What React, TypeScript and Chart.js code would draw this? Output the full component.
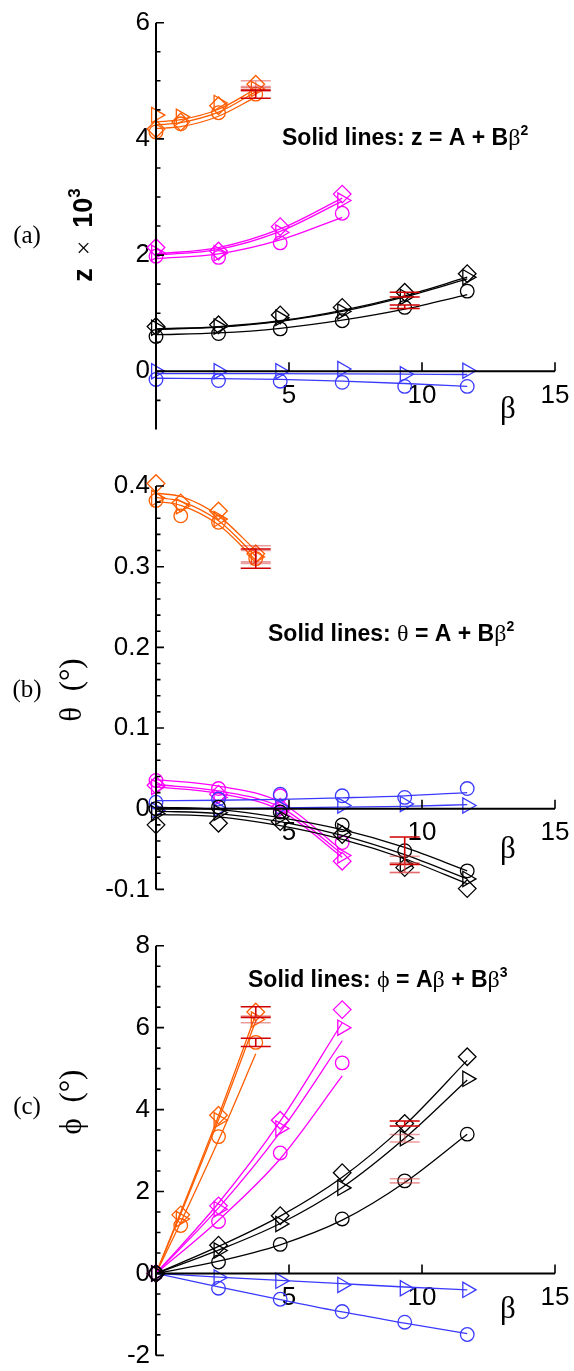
import React, { useEffect, useRef } from 'react';
import { Chart, registerables } from 'chart.js';
Chart.register(...registerables);

const W = 574;
const ORANGE = '#FF5E00';
const MAGENTA = '#FF00FF';
const BLACK = '#000000';
const BLUE = '#3A3AFF';
const RED = '#D00000';
const PINK = 'rgba(215,60,60,0.5)';

// ---- β values ----
const betaOrange = [0, 0.93, 2.35, 3.75];
const betaMagenta = [0, 2.35, 4.67, 7.0];
const betaMain = [0, 2.35, 4.67, 7.0, 9.35, 11.7];
const xTicks = [0, 5, 10, 15];

// ---- Panel (a): z × 10^3 ----
const zOrangeCircle = [4.12, 4.26, 4.45, 4.77];
const zOrangeTriangle = [4.41, 4.38, 4.62, 4.86];
const zOrangeDiamond = [4.17, 4.29, 4.57, 4.94];
const zOrangeFit1 = [4.18, 4.21, 4.39, 4.72];
const zOrangeFit2 = [4.24, 4.28, 4.46, 4.81];
const zOrangeFit3 = [4.29, 4.33, 4.51, 4.86];
const zMagentaCircle = [1.98, 1.96, 2.21, 2.72];
const zMagentaTriangle = [2.04, 2.03, 2.39, 2.94];
const zMagentaDiamond = [2.13, 2.07, 2.49, 3.05];
const zMagentaFit1 = [1.94, 2.02, 2.26, 2.65];
const zMagentaFit2 = [2.0, 2.1, 2.41, 2.93];
const zMagentaFit3 = [2.02, 2.13, 2.45, 2.98];
const zBlackCircle = [0.6, 0.65, 0.73, 0.87, 1.1, 1.38];
const zBlackTriangle = [0.75, 0.77, 0.92, 1.03, 1.28, 1.62];
const zBlackDiamond = [0.77, 0.8, 0.97, 1.1, 1.36, 1.68];
const zBlackFit1 = [0.63, 0.66, 0.74, 0.88, 1.07, 1.32];
const zBlackFit2 = [0.72, 0.76, 0.86, 1.03, 1.28, 1.59];
const zBlackFit3 = [0.73, 0.77, 0.87, 1.05, 1.3, 1.62];
const zBlueCircle = [-0.14, -0.16, -0.17, -0.19, -0.26, -0.26];
const zBlueTriangle = [0.0, 0.0, 0.0, 0.04, -0.05, 0.01];
const zBlueFit1 = [-0.12, -0.125, -0.14, -0.17, -0.21, -0.26];
const zBlueFit2 = [-0.04, -0.04, -0.04, -0.045, -0.05, -0.055];

// ---- Panel (b): θ (°) ----
const tOrangeCircle = [0.382, 0.363, 0.355, 0.31];
const tOrangeTriangle = [0.385, 0.375, 0.359, 0.312];
const tOrangeDiamond = [0.403, 0.379, 0.369, 0.316];
const tOrangeFit1 = [0.381, 0.376, 0.352, 0.308];
const tOrangeFit2 = [0.386, 0.381, 0.357, 0.313];
const tOrangeFit3 = [0.391, 0.387, 0.363, 0.32];
const tMagentaCircle = [0.035, 0.025, 0.016, -0.042];
const tMagentaTriangle = [0.027, 0.014, -0.002, -0.058];
const tMagentaDiamond = [0.029, 0.018, 0.002, -0.065];
const tMagentaFit1 = [0.036, 0.028, 0.008, -0.052];
const tMagentaFit2 = [0.03, 0.022, 0.002, -0.056];
const tMagentaFit3 = [0.027, 0.019, -0.002, -0.06];
const tBlackCircle = [0.0, 0.002, -0.004, -0.02, -0.052, -0.077];
const tBlackTriangle = [-0.006, -0.005, -0.01, -0.028, -0.069, -0.087];
const tBlackDiamond = [-0.02, -0.018, -0.016, -0.032, -0.073, -0.099];
const tBlackFit1 = [0.002, -0.001, -0.011, -0.026, -0.048, -0.077];
const tBlackFit2 = [-0.003, -0.006, -0.016, -0.033, -0.057, -0.087];
const tBlackFit3 = [-0.007, -0.01, -0.021, -0.038, -0.062, -0.093];
const tBlueCircle = [0.008, 0.012, 0.018, 0.016, 0.014, 0.025];
const tBlueTriangle = [-0.002, 0.0, 0.002, 0.004, 0.006, 0.004];
const tBlueFit1 = [0.01, 0.0105, 0.0115, 0.0135, 0.016, 0.02];
const tBlueFit2 = [0.0, 0.0003, 0.001, 0.002, 0.003, 0.005];

// ---- Panel (c): φ (°) ----
const pOrangeCircle = [0, 1.17, 3.34, 5.64];
const pOrangeTriangle = [0, 1.33, 3.74, 6.2];
const pOrangeDiamond = [0, 1.43, 3.86, 6.38];
const pOrangeFit1 = [0, 1.25, 3.25, 5.36];
const pOrangeFit2 = [0, 1.45, 3.75, 6.16];
const pOrangeFit3 = [0, 1.5, 3.85, 6.32];
const pMagentaCircle = [0, 1.27, 2.94, 5.14];
const pMagentaTriangle = [0, 1.57, 3.54, 6.0];
const pMagentaDiamond = [0, 1.65, 3.74, 6.44];
const pMagentaFit1 = [0, 1.3, 2.8, 4.82];
const pMagentaFit2 = [0, 1.6, 3.45, 5.68];
const pMagentaFit3 = [0, 1.72, 3.72, 6.12];
const pBlackCircle = [0, 0.28, 0.71, 1.33, 2.26, 3.4];
const pBlackTriangle = [0, 0.56, 1.21, 2.09, 3.3, 4.75];
const pBlackDiamond = [0, 0.69, 1.41, 2.46, 3.66, 5.29];
const pBlackFit1 = [0, 0.3, 0.7, 1.3, 2.22, 3.4];
const pBlackFit2 = [0, 0.57, 1.22, 2.1, 3.3, 4.72];
const pBlackFit3 = [0, 0.66, 1.4, 2.35, 3.62, 5.2];
const pBlueCircle = [0, -0.36, -0.63, -0.93, -1.19, -1.49];
const pBlueTriangle = [0, -0.1, -0.18, -0.28, -0.36, -0.4];
const pBlueFit1 = [0, -0.33, -0.64, -0.94, -1.21, -1.47];
const pBlueFit2 = [0, -0.09, -0.17, -0.25, -0.33, -0.4];

// ---- error bars: [β, value, half-width] ----
const errA = [[3.75, 4.94, 0.06], [3.75, 4.86, 0.04], [3.75, 4.77, 0.07], [9.35, 1.32, 0.04], [9.35, 1.11, 0.03]];
const errAColors = [PINK, PINK, RED, RED, RED];
const errB = [[3.75, 0.316, 0.01], [3.75, 0.312, 0.008], [3.75, 0.31, 0.012], [9.35, -0.052, 0.017], [9.35, -0.069, 0.01], [9.35, -0.073, 0.006]];
const errBColors = [PINK, PINK, RED, RED, PINK, PINK];
const errC = [[3.75, 6.38, 0.13], [3.75, 6.2, 0.08], [3.75, 5.64, 0.1], [9.35, 3.66, 0.06], [9.35, 3.3, 0.09], [9.35, 2.26, 0.05]];
const errCColors = [RED, PINK, RED, RED, PINK, PINK];

type Group = { beta: number[]; color: string; circle: number[]; triangle: number[]; diamond?: number[]; fits: number[][] };

const groupsA: Group[] = [
  { beta: betaMain, color: BLACK, circle: zBlackCircle, triangle: zBlackTriangle, diamond: zBlackDiamond, fits: [zBlackFit1, zBlackFit2, zBlackFit3] },
  { beta: betaMain, color: BLUE, circle: zBlueCircle, triangle: zBlueTriangle, fits: [zBlueFit1, zBlueFit2] },
  { beta: betaMagenta, color: MAGENTA, circle: zMagentaCircle, triangle: zMagentaTriangle, diamond: zMagentaDiamond, fits: [zMagentaFit1, zMagentaFit2, zMagentaFit3] },
  { beta: betaOrange, color: ORANGE, circle: zOrangeCircle, triangle: zOrangeTriangle, diamond: zOrangeDiamond, fits: [zOrangeFit1, zOrangeFit2, zOrangeFit3] },
];
const groupsB: Group[] = [
  { beta: betaMain, color: BLACK, circle: tBlackCircle, triangle: tBlackTriangle, diamond: tBlackDiamond, fits: [tBlackFit1, tBlackFit2, tBlackFit3] },
  { beta: betaMain, color: BLUE, circle: tBlueCircle, triangle: tBlueTriangle, fits: [tBlueFit1, tBlueFit2] },
  { beta: betaMagenta, color: MAGENTA, circle: tMagentaCircle, triangle: tMagentaTriangle, diamond: tMagentaDiamond, fits: [tMagentaFit1, tMagentaFit2, tMagentaFit3] },
  { beta: betaOrange, color: ORANGE, circle: tOrangeCircle, triangle: tOrangeTriangle, diamond: tOrangeDiamond, fits: [tOrangeFit1, tOrangeFit2, tOrangeFit3] },
];
const groupsC: Group[] = [
  { beta: betaMain, color: BLACK, circle: pBlackCircle, triangle: pBlackTriangle, diamond: pBlackDiamond, fits: [pBlackFit1, pBlackFit2, pBlackFit3] },
  { beta: betaMain, color: BLUE, circle: pBlueCircle, triangle: pBlueTriangle, fits: [pBlueFit1, pBlueFit2] },
  { beta: betaMagenta, color: MAGENTA, circle: pMagentaCircle, triangle: pMagentaTriangle, diamond: pMagentaDiamond, fits: [pMagentaFit1, pMagentaFit2, pMagentaFit3] },
  { beta: betaOrange, color: ORANGE, circle: pOrangeCircle, triangle: pOrangeTriangle, diamond: pOrangeDiamond, fits: [pOrangeFit1, pOrangeFit2, pOrangeFit3] },
];

function buildDatasets(groups: Group[]) {
  const ds: any[] = [];
  for (const g of groups) {
    for (const f of g.fits) {
      ds.push({
        data: g.beta.map((b, i) => ({ x: b, y: f[i] })),
        borderColor: g.color, borderWidth: 1.3, pointRadius: 0, fill: false, clip: false,
        cubicInterpolationMode: 'monotone',
      });
    }
    const markers: [number[] | undefined, string, number][] = [
      [g.circle, 'circle', 6.8], [g.triangle, 'triangle', 8.8], [g.diamond, 'rectRot', 8.8],
    ];
    for (const [vals, style, r] of markers) {
      if (!vals) continue;
      ds.push({
        data: g.beta.map((b, i) => ({ x: b, y: vals[i] })),
        showLine: false, borderColor: g.color, pointBorderColor: g.color, clip: false,
        pointBackgroundColor: 'rgba(0,0,0,0)', pointStyle: style, pointRadius: r,
        pointRotation: style === 'triangle' ? 90 : 0, pointBorderWidth: 1.3,
      });
    }
  }
  return ds;
}

type Run = { t: string; f: string; dy?: number };
const SANS = '"Liberation Sans", Arial, sans-serif';
const SERIF = '"Liberation Serif", "Times New Roman", serif';
const bold = (s: number) => `bold ${s}px ${SANS}`;
const serif = (s: number) => `${s}px ${SERIF}`;

function runsWidth(ctx: CanvasRenderingContext2D, runs: Run[]) {
  let w = 0;
  for (const r of runs) { ctx.font = r.f; w += ctx.measureText(r.t).width; }
  return w;
}
function drawRuns(ctx: CanvasRenderingContext2D, x: number, y: number, runs: Run[]) {
  let cx = x;
  for (const r of runs) {
    ctx.font = r.f;
    ctx.fillText(r.t, cx, y + (r.dy || 0));
    cx += ctx.measureText(r.t).width;
  }
}

type Spec = {
  top: number; height: number; yMin: number; yMax: number; major: number; minor: number;
  padTop: number; padBottom: number; skipMinTick: boolean; groups: Group[];
  errs: number[][]; errColors: string[];
  label: string; labelY: number; title: Run[]; titleY: number; titleX: number;
  note: Run[]; noteX: number; noteY: number; betaY: number;
};

const NOTE = 23;
const NOTE_SERIF = 24;
const SUP = 14;

const specs: Spec[] = [
  {
    top: 0, height: 445, yMin: -1, yMax: 6, major: 2, minor: 0.5, padTop: 22.7, padBottom: 8.3, skipMinTick: true,
    groups: groupsA, errs: errA, errColors: errAColors,
    label: '(a)', labelY: 236,
    title: [{ t: 'z', f: bold(27) }, { t: '  ×  ', f: serif(26) }, { t: '10', f: bold(27) }, { t: '3', f: bold(17), dy: -12 }],
    titleX: 92, titleY: 235,
    note: [{ t: 'Solid lines: z = A + B', f: bold(NOTE) }, { t: 'β', f: serif(NOTE_SERIF) }, { t: '2', f: bold(SUP), dy: -10 }],
    noteX: 282, noteY: 145, betaY: 410,
  },
  {
    top: 445, height: 460, yMin: -0.1, yMax: 0.4, major: 0.1, minor: 0.02, padTop: 41, padBottom: 7.5, skipMinTick: false,
    groups: groupsB, errs: errB, errColors: errBColors,
    label: '(b)', labelY: 690,
    title: [{ t: 'θ  (°)', f: serif(31) }],
    titleX: 81, titleY: 690,
    note: [{ t: 'Solid lines: ', f: bold(NOTE) }, { t: 'θ', f: serif(NOTE_SERIF) }, { t: ' = A + B', f: bold(NOTE) }, { t: 'β', f: serif(NOTE_SERIF) }, { t: '2', f: bold(SUP), dy: -10 }],
    noteX: 268, noteY: 641, betaY: 850,
  },
  {
    top: 905, height: 466, yMin: -2, yMax: 8, major: 2, minor: 0.5, padTop: 40.7, padBottom: 11, skipMinTick: false,
    groups: groupsC, errs: errC, errColors: errCColors,
    label: '(c)', labelY: 1107,
    title: [{ t: 'ϕ  (°)', f: serif(31) }],
    titleX: 81, titleY: 1102,
    note: [{ t: 'Solid lines: ', f: bold(NOTE) }, { t: 'ϕ', f: serif(NOTE_SERIF) }, { t: ' = A', f: bold(NOTE) }, { t: 'β', f: serif(NOTE_SERIF) }, { t: ' + B', f: bold(NOTE) }, { t: 'β', f: serif(NOTE_SERIF) }, { t: '3', f: bold(SUP), dy: -10 }],
    noteX: 248, noteY: 987, betaY: 1310,
  },
];

function fmt(v: number) {
  const r = Math.round(v * 1000) / 1000;
  return r === 0 ? '0' : String(r);
}

function Panel({ spec }: { spec: Spec }) {
  const ref = useRef<HTMLCanvasElement>(null);
  useEffect(() => {
    const canvas = ref.current!;
    const s = spec;
    const decor = {
      id: 'decor',
      afterDatasetsDraw(chart: any) {
        const ctx: CanvasRenderingContext2D = chart.ctx;
        const xs = chart.scales.x, ys = chart.scales.y;
        ctx.save();
        s.errs.forEach((e, i) => {
          const px = xs.getPixelForValue(e[0]);
          const p1 = ys.getPixelForValue(e[1] + e[2]);
          const p2 = ys.getPixelForValue(e[1] - e[2]);
          ctx.strokeStyle = s.errColors[i];
          ctx.lineWidth = 1.6;
          ctx.beginPath();
          ctx.moveTo(px, p1); ctx.lineTo(px, p2);
          ctx.moveTo(px - 15, p1); ctx.lineTo(px + 15, p1);
          ctx.moveTo(px - 15, p2); ctx.lineTo(px + 15, p2);
          ctx.stroke();
        });
        ctx.restore();
      },
      afterDraw(chart: any) {
        const ctx: CanvasRenderingContext2D = chart.ctx;
        const xs = chart.scales.x, ys = chart.scales.y;
        const left = chart.chartArea.left;
        const y0 = ys.getPixelForValue(0);
        ctx.save();
        ctx.strokeStyle = '#000';
        ctx.lineWidth = 2;
        ctx.beginPath();
        ctx.moveTo(left, ys.getPixelForValue(s.yMax));
        ctx.lineTo(left, ys.getPixelForValue(s.yMin));
        ctx.moveTo(xs.getPixelForValue(xTicks[0]), y0);
        ctx.lineTo(xs.getPixelForValue(xTicks[xTicks.length - 1]), y0);
        ctx.stroke();
        ctx.lineWidth = 1.6;
        ctx.beginPath();
        const n = Math.round((s.yMax - s.yMin) / s.minor);
        for (let i = 0; i <= n; i++) {
          if (i === 0 && s.skipMinTick) continue;
          const v = s.yMin + i * s.minor;
          const q = v / s.major;
          const isMajor = Math.abs(q - Math.round(q)) < 1e-6;
          const py = ys.getPixelForValue(v);
          ctx.moveTo(left, py);
          ctx.lineTo(left + (isMajor ? 8 : 4.5), py);
        }
        for (const t of xTicks.slice(1)) {
          const px = xs.getPixelForValue(t);
          ctx.moveTo(px, y0);
          ctx.lineTo(px, y0 - 9);
        }
        ctx.stroke();

        ctx.fillStyle = '#000';
        ctx.textBaseline = 'alphabetic';
        ctx.textAlign = 'left';
        drawRuns(ctx, s.noteX, s.noteY - s.top, s.note);
        ctx.font = serif(25);
        ctx.textAlign = 'center';
        ctx.textBaseline = 'middle';
        ctx.fillText(s.label, 27, s.labelY - s.top);
        ctx.font = serif(31);
        ctx.fillText('β', 508, s.betaY - s.top);
        ctx.textAlign = 'left';
        ctx.textBaseline = 'alphabetic';
        const tw = runsWidth(ctx, s.title);
        ctx.translate(s.titleX, s.titleY - s.top);
        ctx.rotate(-Math.PI / 2);
        drawRuns(ctx, -tw / 2, 0, s.title);
        ctx.restore();
      },
    };
    const chart = new Chart(canvas, {
      type: 'line',
      data: { datasets: buildDatasets(s.groups) },
      options: {
        animation: false,
        responsive: false,
        maintainAspectRatio: false,
        devicePixelRatio: 1,
        layout: { padding: { left: 0, right: 19, top: s.padTop, bottom: s.padBottom } },
        plugins: { legend: { display: false }, tooltip: { enabled: false } },
        scales: {
          x: {
            type: 'linear', min: xTicks[0], max: xTicks[xTicks.length - 1], position: { y: 0 } as any,
            grid: { display: false, drawTicks: true, tickLength: 8 }, border: { display: false },
            ticks: {
              stepSize: 5, padding: 1, maxRotation: 0, autoSkip: false, color: '#000',
              font: { family: 'Liberation Sans', size: 26 },
              callback: (v: any) => (Number(v) === 0 ? '' : String(v)),
            },
          },
          y: {
            type: 'linear', min: s.yMin, max: s.yMax, position: 'left',
            afterFit: (sc: any) => { sc.width = 156; },
            grid: { display: false, drawTicks: true, tickLength: 6 }, border: { display: false },
            ticks: {
              stepSize: s.major, includeBounds: false, padding: 0, autoSkip: false, color: '#000',
              font: { family: 'Liberation Sans', size: 26 },
              callback: (v: any) => fmt(Number(v)),
            },
          },
        },
      } as any,
      plugins: [decor],
    });
    return () => chart.destroy();
  }, []);
  return (
    <canvas
      ref={ref}
      width={W}
      height={spec.height}
      style={{ position: 'absolute', left: 0, top: spec.top, width: W, height: spec.height }}
    />
  );
}

export default function App() {
  return (
    <div style={{ position: 'absolute', left: 0, top: 0, width: W, height: 1371, background: '#fff' }}>
      {specs.map((s, i) => <Panel key={i} spec={s} />)}
    </div>
  );
}
